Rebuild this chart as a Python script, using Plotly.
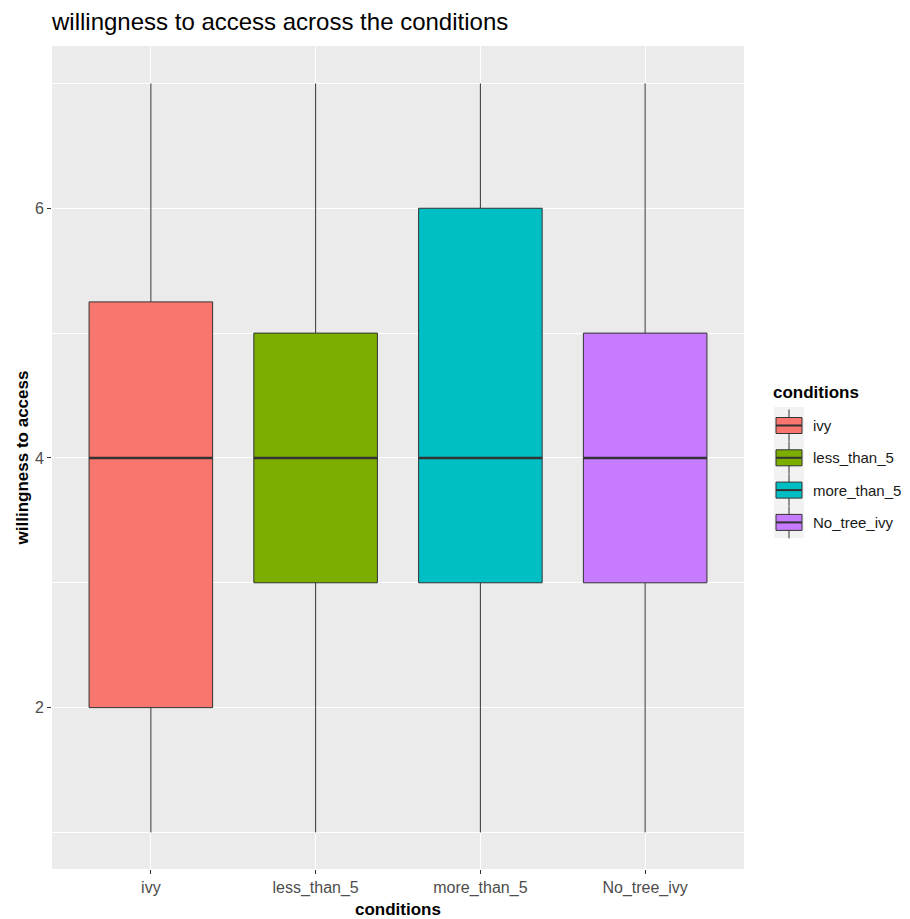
import plotly.graph_objects as go

categories = ["ivy", "less_than_5", "more_than_5", "No_tree_ivy"]
lower_whisker = [1, 1, 1, 1]
q1_vals = [2, 3, 3, 3]
median_vals = [4, 4, 4, 4]
q3_vals = [5.25, 5, 6, 5]
upper_whisker = [7, 7, 7, 7]
colors = ["#F8766D", "#7CAE00", "#00BFC4", "#C77CFF"]

FONT = "Liberation Sans, Arial, sans-serif"

# page has an 8px body margin; figure sized so it fits the 910x919 window
W, H = 902, 911
OFF = 8
PL, PR, PT, PB = 52, 744, 46, 869  # panel edges in screen pixels
ML, MT = PL - OFF, PT - OFF
MR = W - (PR - OFF)
MB = H - (PB - OFF)


def px(X):
    return (X - PL) / (PR - PL)


def py(Y):
    return (PB - Y) / (PB - PT)


fig = go.Figure()
for i, c in enumerate(categories):
    fig.add_trace(go.Box(
        x=[c], q1=[q1_vals[i]], median=[median_vals[i]], q3=[q3_vals[i]],
        lowerfence=[lower_whisker[i]], upperfence=[upper_whisker[i]],
        name=c, fillcolor=colors[i], line=dict(color="#333333", width=1),
        whiskerwidth=0, width=0.75, boxpoints=False, showlegend=False,
        hoverinfo="skip",
    ))

shapes = []
annotations = []
for i, c in enumerate(categories):
    shapes.append(dict(type="line", xref="x", yref="y",
                       x0=i - 0.375, x1=i + 0.375,
                       y0=median_vals[i], y1=median_vals[i],
                       line=dict(color="#333333", width=2.5), layer="above"))

# ggplot-style legend
shapes.append(dict(type="rect", xref="paper", yref="paper",
                   x0=px(774), x1=px(804), y0=py(538), y1=py(407),
                   fillcolor="#F2F2F2", line=dict(width=0), layer="below"))
annotations.append(dict(text="<b>conditions</b>", xref="paper", yref="paper",
                        x=px(771), y=py(392), xanchor="left", yanchor="middle",
                        showarrow=False, font=dict(size=17, color="#000000")))
for i, c in enumerate(categories):
    cy = 425.5 + i * 32.3
    cx = 789
    shapes.append(dict(type="line", xref="paper", yref="paper",
                       x0=px(cx), x1=px(cx), y0=py(cy - 16), y1=py(cy + 16),
                       line=dict(color="#333333", width=1), layer="above"))
    shapes.append(dict(type="rect", xref="paper", yref="paper",
                       x0=px(776), x1=px(802), y0=py(cy + 8), y1=py(cy - 8),
                       fillcolor=colors[i], line=dict(color="#333333", width=1),
                       layer="above"))
    shapes.append(dict(type="line", xref="paper", yref="paper",
                       x0=px(776), x1=px(802), y0=py(cy), y1=py(cy),
                       line=dict(color="#333333", width=2), layer="above"))
    annotations.append(dict(text=c, xref="paper", yref="paper",
                            x=px(811), y=py(cy), xanchor="left", yanchor="middle",
                            showarrow=False, font=dict(size=15, color="#1A1A1A")))

fig.update_layout(
    width=W, height=H,
    paper_bgcolor="white", plot_bgcolor="#EBEBEB",
    margin=dict(l=ML, r=MR, t=MT, b=MB, autoexpand=False),
    font=dict(family=FONT, color="#000000"),
    title=dict(text="willingness to access across the conditions",
               x=ML / W, xanchor="left", y=1 - (22 - OFF) / H, yanchor="middle",
               font=dict(size=24, color="#000000")),
    shapes=shapes,
    annotations=annotations,
    showlegend=False,
    boxgap=0,
)
fig.update_xaxes(
    range=[-0.6, 3.6], showgrid=True, gridcolor="white", gridwidth=1.1,
    ticks="outside", ticklen=4, tickcolor="#333333", tickwidth=1,
    tickfont=dict(size=16, color="#4D4D4D"), zeroline=False, automargin=False,
    title=dict(text="<b>conditions</b>", font=dict(size=17), standoff=6),
)
fig.update_yaxes(
    range=[0.707, 7.3], tickvals=[2, 4, 6], showgrid=True, gridcolor="white",
    gridwidth=1.1, minor=dict(tickvals=[1, 3, 5, 7], showgrid=True,
                              gridcolor="white", gridwidth=0.6, ticks=""),
    ticks="outside", ticklen=4, tickcolor="#333333", tickwidth=1,
    tickfont=dict(size=16, color="#4D4D4D"), zeroline=False, automargin=False,
    title=dict(text="<b>willingness to access</b>", font=dict(size=17), standoff=1),
)

fig.write_html("out.html")
